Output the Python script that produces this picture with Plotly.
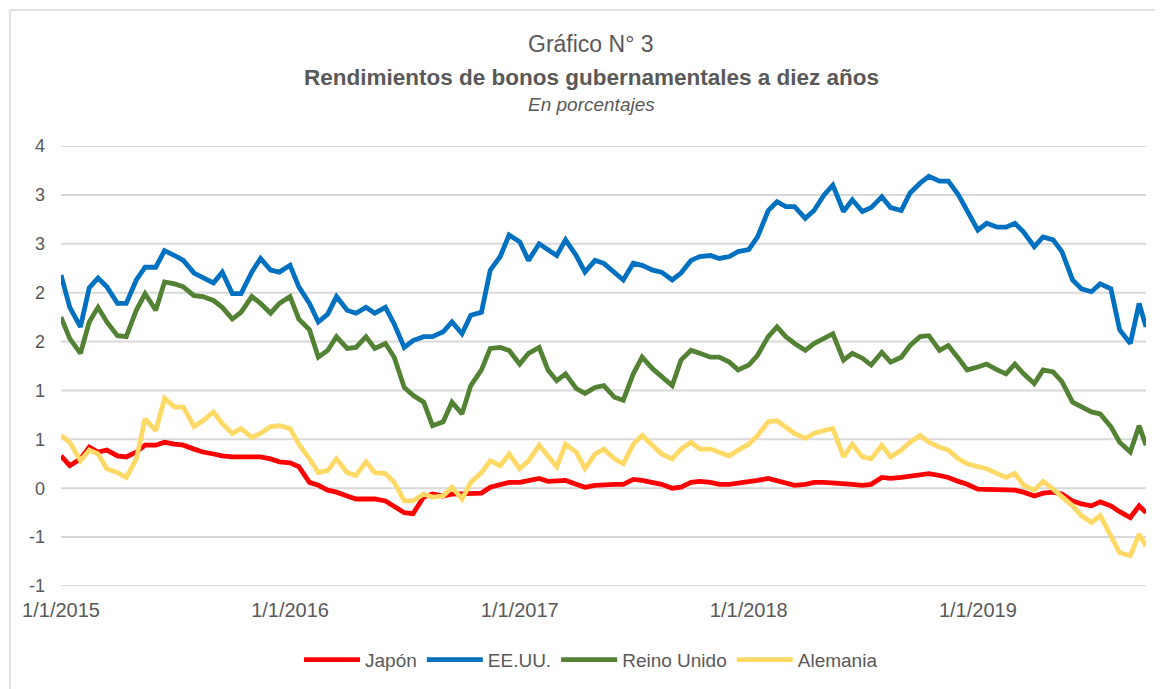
import plotly.graph_objects as go

# --- datos (lectura aproximada del gráfico, quincenal)
fechas = [
  "2015-01-01","2015-01-15","2015-02-01","2015-02-15","2015-03-01","2015-03-15","2015-04-01","2015-04-15",
  "2015-05-01","2015-05-15","2015-06-01","2015-06-15","2015-07-01","2015-07-15","2015-08-01","2015-08-15",
  "2015-09-01","2015-09-15","2015-10-01","2015-10-15","2015-11-01","2015-11-15","2015-12-01","2015-12-15",
  "2016-01-01","2016-01-15","2016-02-01","2016-02-15","2016-03-01","2016-03-15","2016-04-01","2016-04-15",
  "2016-05-01","2016-05-15","2016-06-01","2016-06-15","2016-07-01","2016-07-15","2016-08-01","2016-08-15",
  "2016-09-01","2016-09-15","2016-10-01","2016-10-15","2016-11-01","2016-11-15","2016-12-01","2016-12-15",
  "2017-01-01","2017-01-15","2017-02-01","2017-02-15","2017-03-01","2017-03-15","2017-04-01","2017-04-15",
  "2017-05-01","2017-05-15","2017-06-01","2017-06-15","2017-07-01","2017-07-15","2017-08-01","2017-08-15",
  "2017-09-01","2017-09-15","2017-10-01","2017-10-15","2017-11-01","2017-11-15","2017-12-01","2017-12-15",
  "2018-01-01","2018-01-15","2018-02-01","2018-02-15","2018-03-01","2018-03-15","2018-04-01","2018-04-15",
  "2018-05-01","2018-05-15","2018-06-01","2018-06-15","2018-07-01","2018-07-15","2018-08-01","2018-08-15",
  "2018-09-01","2018-09-15","2018-10-01","2018-10-15","2018-11-01","2018-11-15","2018-12-01","2018-12-15",
  "2019-01-01","2019-01-15","2019-02-01","2019-02-15","2019-03-01","2019-03-15","2019-04-01","2019-04-15",
  "2019-05-01","2019-05-15","2019-06-01","2019-06-15","2019-07-01","2019-07-15","2019-08-01","2019-08-15",
  "2019-09-01","2019-09-15","2019-09-26",
]

japon = [
  0.33, 0.23, 0.30, 0.42, 0.37, 0.39, 0.33, 0.32, 0.37, 0.44, 0.44, 0.47, 0.45, 0.44, 0.40, 0.37, 0.35, 0.33, 0.32, 0.32, 0.33, 0.32, 0.30, 0.27,
  0.26, 0.22, 0.06, 0.03, -0.02, -0.04, -0.08, -0.11, -0.11, -0.11, -0.13, -0.19, -0.25, -0.26, -0.09, -0.06, -0.08, -0.06, -0.06, -0.05, -0.05, 0.01, 0.04, 0.06,
  0.06, 0.08, 0.10, 0.07, 0.07, 0.08, 0.04, 0.01, 0.03, 0.04, 0.04, 0.04, 0.09, 0.08, 0.06, 0.04, 0.00, 0.01, 0.06, 0.07, 0.06, 0.04, 0.04, 0.05,
  0.07, 0.08, 0.10, 0.08, 0.05, 0.03, 0.04, 0.06, 0.06, 0.05, 0.04, 0.04, 0.03, 0.04, 0.11, 0.10, 0.11, 0.12, 0.14, 0.15, 0.13, 0.11, 0.07, 0.04,
  -0.01, -0.01, -0.02, -0.02, -0.02, -0.04, -0.08, -0.05, -0.04, -0.06, -0.13, -0.16, -0.18, -0.14, -0.18, -0.24, -0.30, -0.18, -0.25,
]
eeuu = [
  2.18, 1.85, 1.65, 2.05, 2.15, 2.06, 1.89, 1.89, 2.13, 2.26, 2.26, 2.43, 2.38, 2.33, 2.20, 2.16, 2.10, 2.21, 1.99, 1.99, 2.21, 2.35, 2.23, 2.21,
  2.28, 2.06, 1.89, 1.70, 1.78, 1.96, 1.82, 1.79, 1.85, 1.79, 1.85, 1.68, 1.44, 1.51, 1.55, 1.55, 1.60, 1.70, 1.58, 1.77, 1.80, 2.23, 2.37, 2.59,
  2.52, 2.33, 2.50, 2.44, 2.38, 2.54, 2.38, 2.21, 2.33, 2.30, 2.20, 2.13, 2.30, 2.28, 2.23, 2.21, 2.13, 2.20, 2.33, 2.37, 2.38, 2.35, 2.37, 2.42,
  2.44, 2.57, 2.84, 2.93, 2.88, 2.88, 2.76, 2.84, 3.00, 3.10, 2.83, 2.95, 2.83, 2.87, 2.98, 2.87, 2.84, 3.02, 3.12, 3.19, 3.14, 3.14, 3.00, 2.83,
  2.64, 2.71, 2.67, 2.67, 2.71, 2.62, 2.47, 2.57, 2.54, 2.42, 2.13, 2.04, 2.01, 2.09, 2.04, 1.62, 1.48, 1.89, 1.65,
]
reino_unido = [
  1.75, 1.53, 1.38, 1.70, 1.85, 1.70, 1.56, 1.55, 1.82, 1.99, 1.82, 2.11, 2.09, 2.06, 1.97, 1.96, 1.92, 1.85, 1.73, 1.80, 1.96, 1.89, 1.79, 1.89,
  1.96, 1.73, 1.62, 1.34, 1.41, 1.55, 1.43, 1.44, 1.55, 1.43, 1.48, 1.34, 1.03, 0.95, 0.88, 0.64, 0.68, 0.88, 0.76, 1.05, 1.21, 1.43, 1.44, 1.41,
  1.27, 1.38, 1.44, 1.21, 1.10, 1.17, 1.02, 0.97, 1.03, 1.05, 0.93, 0.90, 1.17, 1.34, 1.22, 1.14, 1.05, 1.31, 1.41, 1.38, 1.34, 1.34, 1.29, 1.21,
  1.26, 1.36, 1.55, 1.65, 1.55, 1.48, 1.41, 1.48, 1.53, 1.58, 1.31, 1.38, 1.33, 1.26, 1.39, 1.29, 1.34, 1.46, 1.55, 1.56, 1.41, 1.46, 1.33, 1.21,
  1.24, 1.27, 1.21, 1.17, 1.27, 1.17, 1.07, 1.21, 1.19, 1.09, 0.88, 0.83, 0.78, 0.76, 0.63, 0.47, 0.37, 0.64, 0.44,
]
alemania = [
  0.54, 0.47, 0.28, 0.39, 0.35, 0.20, 0.16, 0.11, 0.30, 0.71, 0.59, 0.92, 0.83, 0.83, 0.63, 0.69, 0.78, 0.66, 0.56, 0.61, 0.52, 0.56, 0.63, 0.64,
  0.61, 0.45, 0.30, 0.16, 0.18, 0.30, 0.16, 0.13, 0.27, 0.16, 0.15, 0.06, -0.13, -0.13, -0.06, -0.09, -0.08, 0.01, -0.11, 0.06, 0.16, 0.28, 0.23, 0.35,
  0.20, 0.28, 0.44, 0.33, 0.22, 0.45, 0.37, 0.20, 0.35, 0.40, 0.30, 0.25, 0.45, 0.54, 0.44, 0.35, 0.30, 0.40, 0.47, 0.40, 0.40, 0.37, 0.33, 0.39,
  0.45, 0.54, 0.68, 0.69, 0.63, 0.56, 0.51, 0.56, 0.59, 0.61, 0.32, 0.45, 0.32, 0.30, 0.44, 0.32, 0.39, 0.47, 0.54, 0.47, 0.42, 0.39, 0.30, 0.25,
  0.22, 0.20, 0.15, 0.11, 0.15, 0.03, -0.02, 0.07, -0.01, -0.08, -0.18, -0.28, -0.35, -0.28, -0.48, -0.66, -0.69, -0.47, -0.59,
]

y_ticks = [-1, -0.5, 0, 0.5, 1, 1.5, 2, 2.5, 3, 3.5]
y_labels = ["-1", "-1", "0", "1", "1", "2", "2", "3", "3", "4"]
x_ticks = ["2015-01-01", "2016-01-01", "2017-01-01", "2018-01-01", "2019-01-01"]
x_labels = ["1/1/2015", "1/1/2016", "1/1/2017", "1/1/2018", "1/1/2019"]

#--- estilo
FONT = "Liberation Sans, Arial, sans-serif"
GRIS = "#595959"
GRID = "#D9D9D9"
series = [
  ("Japón", japon, "#FF0000"),
  ("EE.UU.", eeuu, "#0070C0"),
  ("Reino Unido", reino_unido, "#548235"),
  ("Alemania", alemania, "#FFD966"),
]

fig = go.Figure()
for nombre, valores, color in series:
  fig.add_trace(go.Scatter(x=fechas, y=valores, mode="lines", name=nombre,
                           line=dict(color=color, width=4.8)))

#--- líneas de cuadrícula horizontales (en cada valor de y_ticks)
grid = [dict(type="line", xref="paper", yref="y", x0=0, x1=1, y0=v, y1=v, layer="below",
             line=dict(color=GRID, width=2)) for v in y_ticks]

# la página tiene un margen de 8 px: la figura se desplaza 8 px
TX = 0.4885  # centro del título (el del marco, no el del área de trazado)
fig.update_layout(
  width=1155, height=681,
  margin=dict(l=53, r=17, t=138, b=103),
  paper_bgcolor="white", plot_bgcolor="white",
  font=dict(family=FONT, color=GRIS, size=16),
  showlegend=True,
  legend=dict(orientation="h", xanchor="center", x=0.4885, yref="container", y=0.043, yanchor="middle",
              font=dict(size=19, color=GRIS), itemwidth=56, tracegroupgap=0),
  xaxis=dict(type="date", range=[fechas[0], fechas[-1]], tickvals=x_ticks, ticktext=x_labels,
             showgrid=False, showline=False, zeroline=False, ticks="",
             tickfont=dict(size=20, color=GRIS), ticklabelstandoff=10),
  yaxis=dict(range=[-1, 3.5], tickvals=y_ticks, ticktext=y_labels, showgrid=False,
             zeroline=False, showline=False, ticks="",
             tickfont=dict(size=18, color=GRIS), ticklabelstandoff=15),
  annotations=[
    dict(text="Gráfico N° 3", xref="paper", yref="paper", x=TX, y=1.231, showarrow=False,
         yanchor="middle", font=dict(size=23, color=GRIS)),
    dict(text="<b>Rendimientos de bonos gubernamentales a diez años</b>", xref="paper", yref="paper",
         x=TX, y=1.156, showarrow=False, yanchor="middle", font=dict(size=22.5, color=GRIS)),
    dict(text="<i>En porcentajes</i>", xref="paper", yref="paper", x=TX, y=1.094, showarrow=False,
         yanchor="middle", font=dict(size=19, color=GRIS)),
  ],
  shapes=grid + [
    dict(type="line", xref="paper", yref="paper", x0=-0.047, x1=1.1, y0=1.309, y1=1.309,
         line=dict(color=GRID, width=1.5)),
    dict(type="line", xref="paper", yref="paper", x0=-0.047, x1=-0.047, y0=-0.3, y1=1.309,
         line=dict(color=GRID, width=1.5)),
  ],
)

fig.write_html("out.html")
